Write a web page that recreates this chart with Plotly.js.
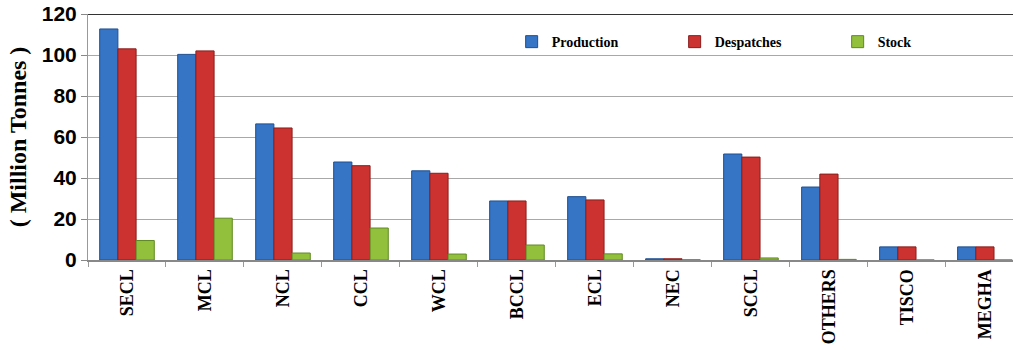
<!DOCTYPE html>
<html>
<head>
<meta charset="utf-8">
<script src="https://cdn.plot.ly/plotly-3.0.1.min.js"></script>
<style>
  html, body { margin: 0; padding: 0; background: #fff; }
  #chart { width: 1013px; height: 354px; }
</style>
</head>
<body>
<div id="chart"></div>
<script>
// Coal companies and their production, despatches and closing stock (million tonnes)
const companies = ['SECL', 'MCL', 'NCL', 'CCL', 'WCL', 'BCCL', 'ECL', 'NEC', 'SCCL', 'OTHERS', 'TISCO', 'MEGHA'];
const production = [112.7, 100.3, 66.4, 47.8, 43.5, 28.8, 30.9, 0.6, 51.7, 35.6, 6.4, 6.4];
const despatches = [103.0, 102.0, 64.4, 46.0, 42.3, 28.8, 29.3, 0.6, 50.2, 41.9, 6.4, 6.4];
const stock = [9.5, 20.4, 3.4, 15.6, 2.9, 7.3, 3.0, 0.1, 1.0, 0.3, 0.0, 0.0];
const yTicks = [0, 20, 40, 60, 80, 100, 120];

const serifBold = { family: 'Liberation Serif, Times New Roman, serif', color: '#000', weight: 'bold' };

function series(name, values, fill, edge) {
  return {
    type: 'bar',
    name: name,
    x: companies,
    y: values,
    marker: { color: fill, line: { color: edge, width: 1 } },
    hoverinfo: 'x+y+name'
  };
}

const data = [
  series('Production', production, '#3674c6', '#1f4f8f'),
  series('Despatches', despatches, '#cc3330', '#8a1d1a'),
  series('Stock', stock, '#92bf3c', '#5f8a22')
];

const layout = {
  width: 1013,
  height: 354,
  margin: { l: 88, r: 0, t: 14, b: 94 },
  paper_bgcolor: '#fff',
  plot_bgcolor: '#fff',
  barmode: 'group',
  bargap: 0.3,
  bargroupgap: 0,
  showlegend: true,
  legend: {
    orientation: 'h',
    x: 0.458, xanchor: 'left',
    y: 0.886, yanchor: 'middle',
    font: Object.assign({ size: 14 }, serifBold),
    itemwidth: 30,
    entrywidth: 118,
    traceorder: 'normal',
    bgcolor: 'rgba(0,0,0,0)'
  },
  xaxis: {
    type: 'category',
    range: [-0.5, 11.36],
    tickangle: -90,
    tickfont: Object.assign({ size: 18 }, serifBold),
    ticks: 'outside',
    tickson: 'boundaries',
    ticklen: 5,
    tickcolor: '#999',
    showline: true,
    linecolor: '#888',
    linewidth: 2,
    showgrid: false,
    zeroline: false
  },
  yaxis: {
    range: [0, 120],
    tickvals: yTicks,
    ticktext: yTicks.map(String),
    tickfont: { family: 'Liberation Sans Narrow, Liberation Sans, Arial, sans-serif', size: 21, color: '#000', weight: 'bold' },
    ticks: 'outside',
    ticklen: 6,
    tickcolor: '#888',
    showline: true,
    linecolor: '#999',
    linewidth: 1,
    showgrid: true,
    gridcolor: '#a8a8a8',
    gridwidth: 1,
    zeroline: false,
    title: {
      text: '( Million Tonnes )',
      font: Object.assign({ size: 24 }, serifBold),
      standoff: 8
    }
  },
  shapes: [
    { type: 'line', xref: 'paper', yref: 'y', x0: 0, x1: 1, y0: 120, y1: 120,
      line: { color: '#333', width: 2 } }
  ]
};

Plotly.newPlot('chart', data, layout, { displayModeBar: false, staticPlot: true });
</script>
</body>
</html>
